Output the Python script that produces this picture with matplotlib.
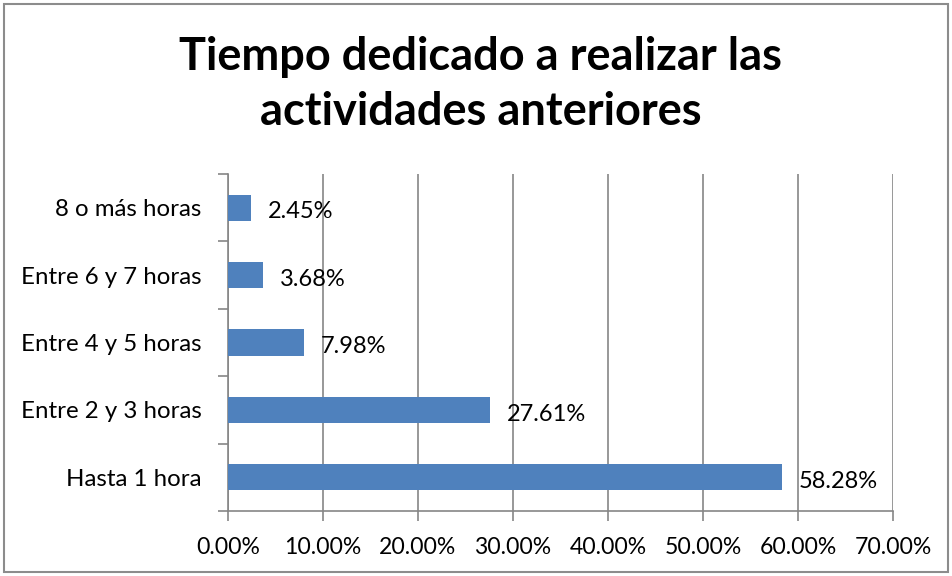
import matplotlib.pyplot as plt
from matplotlib.ticker import FuncFormatter, FixedLocator
from matplotlib.patches import Rectangle

categorias = ["Hasta 1 hora", "Entre 2 y 3 horas", "Entre 4 y 5 horas",
              "Entre 6 y 7 horas", "8 o más horas"]
porcentajes = [58.28, 27.61, 7.98, 3.68, 2.45]
ticks_x = [0, 10, 20, 30, 40, 50, 60, 70]

plt.rcParams["font.family"] = ["Lato", "DejaVu Sans"]

fig = plt.figure(figsize=(9.52, 5.76), dpi=100)
fig.patch.set_facecolor("white")
fig.patches.append(Rectangle((4 / 952, 4 / 576), 1 - 8 / 952, 1 - 8 / 576,
                             transform=fig.transFigure, fill=False,
                             edgecolor="#8c8c8c", linewidth=1.5))

ax = fig.add_axes([228 / 952, 1 - 511 / 576, (893 - 228) / 952, (511 - 174) / 576])

y = list(range(len(categorias)))
ax.barh(y, porcentajes, height=0.39, color="#4F81BD", zorder=3)
ax.set_xlim(0, 70)
ax.set_ylim(-0.5, len(categorias) - 0.5)

for yi, v in zip(y, porcentajes):
    ax.annotate(f"{v:.2f}%", (v, yi), xytext=(12, -3), textcoords="offset points",
                va="center", ha="left", fontsize=17, color="black", zorder=4)

ax.set_xticks(ticks_x)
ax.xaxis.set_major_formatter(FuncFormatter(lambda v, p: f"{v:.2f}%"))
ax.grid(axis="x", color="#868686", linewidth=1.2, zorder=0)

ax.set_yticks(y)
ax.set_yticklabels(categorias)
ax.yaxis.set_minor_locator(FixedLocator([i - 0.5 for i in range(len(categorias) + 1)]))
ax.tick_params(axis="y", which="major", length=0, pad=19, labelsize=17.3)
ax.tick_params(axis="y", which="minor", length=7, color="#868686", width=1.2)
ax.tick_params(axis="x", length=7, color="#868686", width=1.2, labelsize=16.6, pad=12)

for s in ["top", "right"]:
    ax.spines[s].set_visible(False)
for s in ["left", "bottom"]:
    ax.spines[s].set_color("#868686")
    ax.spines[s].set_linewidth(1.2)

fig.text(0.505, 0.853, "Tiempo dedicado a realizar las\nactividades anteriores",
         ha="center", va="center", fontsize=32.5, fontweight="bold",
         linespacing=1.4)

fig.savefig("out.png", dpi=100, facecolor="white")
